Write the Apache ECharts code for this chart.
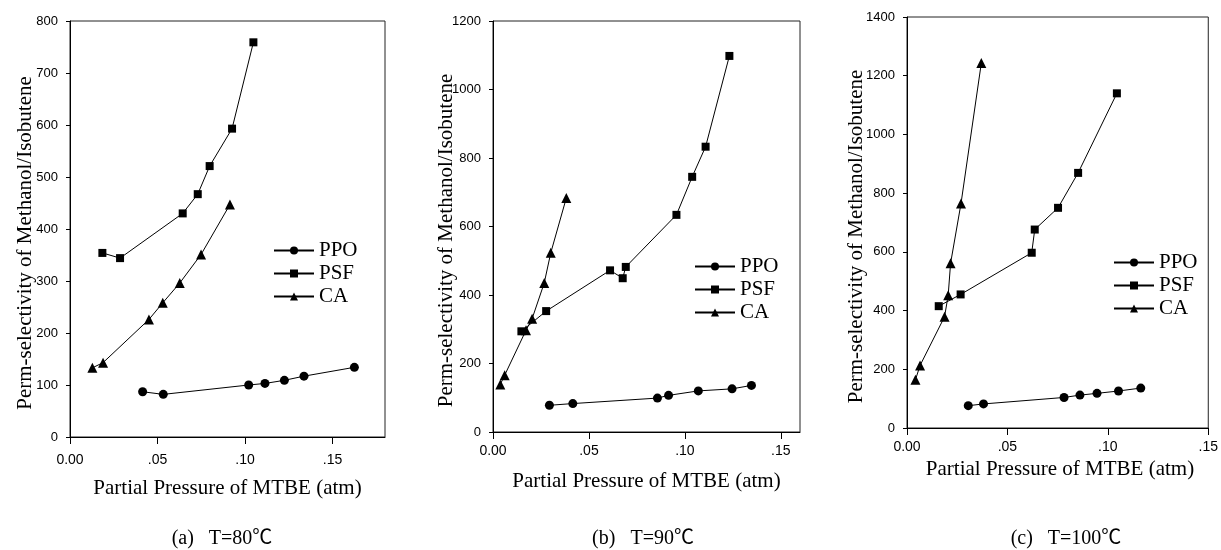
<!DOCTYPE html>
<html>
<head>
  <meta charset="utf-8">
  <title>Perm-selectivity of Methanol/Isobutene</title>
  <script src="https://cdn.jsdelivr.net/npm/echarts@6.0.0/dist/echarts.min.js"></script>
  <style>
    html, body { margin: 0; padding: 0; background: #fff; }
    #dom { width: 1221px; height: 550px; }
  </style>
</head>
<body>
<div id="dom"></div>
<script>
  // [partial pressure of MTBE (atm), perm-selectivity]
  const ppo80 = [[0.0415, 87], [0.0533, 82], [0.1021, 100], [0.1114, 103], [0.1225, 109], [0.1337, 117], [0.1625, 134]]
  const psf80 = [[0.0185, 354], [0.0286, 344], [0.0644, 430], [0.0730, 467], [0.0798, 521], [0.0926, 593], [0.1048, 759]]
  const ca80 = [[0.0128, 133], [0.0189, 143], [0.0451, 226], [0.0530, 258], [0.0627, 296], [0.0749, 351], [0.0914, 447]]

  const ppo90 = [[0.0294, 78], [0.0416, 83], [0.0857, 99], [0.0915, 107], [0.1070, 120], [0.1246, 126], [0.1347, 136]]
  const psf90 = [[0.0148, 294], [0.0277, 353], [0.0610, 472], [0.0676, 449], [0.0692, 482], [0.0956, 634], [0.1038, 745], [0.1108, 833], [0.1232, 1098]]
  const ca90 = [[0.0038, 139], [0.0061, 166], [0.0172, 297], [0.0204, 331], [0.0267, 435], [0.0301, 523], [0.0382, 683]]

  const ppo100 = [[0.0305, 76], [0.0381, 82], [0.0782, 104], [0.0861, 112], [0.0946, 118], [0.1053, 126], [0.1164, 136]]
  const psf100 = [[0.0158, 415], [0.0267, 455], [0.0621, 597], [0.0636, 676], [0.0752, 750], [0.0852, 869], [0.1045, 1140]]
  const ca100 = [[0.0042, 164], [0.0065, 213], [0.0187, 379], [0.0205, 452], [0.0217, 561], [0.0269, 765], [0.0370, 1243]]

  const xTicks = [0, 0.05, 0.10, 0.15]
  const membranes = ['PPO', 'PSF', 'CA']
  const captions = ['(a)   T=80℃', '(b)   T=90℃', '(c)   T=100℃']
  const xTitle = 'Partial Pressure of MTBE (atm)'
  const yTitle = 'Perm-selectivity of Methanol/Isobutene'

  const serif = "'Liberation Serif', 'Noto Sans CJK SC', serif"
  const sans = "'Liberation Sans', Arial, sans-serif"

  // one entry per panel: plot box, axis ranges and text placement
  const panels = [
    { left: 70, top: 21, width: 315, height: 416, xMax: 0.18, yMax: 800, yStep: 100, xLabelMargin: 16,
      data: [ppo80, psf80, ca80], legend: [268, 235], xTitleY: 488, yTitleX: 25, captionX: 222 },
    { left: 493, top: 21, width: 307, height: 411, xMax: 0.16, yMax: 1200, yStep: 200, xLabelMargin: 12,
      data: [ppo90, psf90, ca90], legend: [689, 251], xTitleY: 481, yTitleX: 446, captionX: 643 },
    { left: 907, top: 17, width: 306, height: 411, xMax: 0.15, yMax: 1400, yStep: 200, xLabelMargin: 12,
      data: [ppo100, psf100, ca100], legend: [1108, 247], xTitleY: 469, yTitleX: 856, captionX: 1066 }
  ]

  const symbols = { PPO: ['circle', 9], PSF: ['rect', 8], CA: ['triangle', 10] }

  function xLabel (v) {
    return v === 0 ? '0.00' : v.toFixed(2).replace(/^0/, '')
  }

  const grid = []
  const xAxis = []
  const yAxis = []
  const legend = []
  const series = []
  const graphic = []

  panels.forEach((p, i) => {
    grid.push({
      left: p.left,
      top: p.top,
      width: p.width,
      height: p.height,
      show: true,
      borderColor: '#222',
      borderWidth: 1
    })
    xAxis.push({
      type: 'value',
      gridIndex: i,
      min: 0,
      max: p.xMax,
      interval: 0.05,
      splitLine: { show: false },
      axisLine: { lineStyle: { color: '#000', width: 1 } },
      axisTick: { inside: false, length: 7, lineStyle: { color: '#000' }, customValues: xTicks },
      axisLabel: {
        customValues: xTicks,
        margin: p.xLabelMargin,
        color: '#000',
        fontFamily: sans,
        fontSize: 14,
        formatter: xLabel
      }
    })
    yAxis.push({
      type: 'value',
      gridIndex: i,
      min: 0,
      max: p.yMax,
      interval: p.yStep,
      splitLine: { show: false },
      axisLine: { show: true, lineStyle: { color: '#000', width: 1 } },
      axisTick: { show: true, inside: false, length: 4, lineStyle: { color: '#000' } },
      axisLabel: { margin: 12, color: '#000', fontFamily: sans, fontSize: 13, formatter: v => String(v) }
    })
    legend.push({
      orient: 'vertical',
      left: p.legend[0],
      top: p.legend[1],
      data: membranes,
      itemWidth: 40,
      itemHeight: 10,
      itemGap: 2,
      selectedMode: false,
      textStyle: { color: '#000', fontFamily: serif, fontSize: 21, lineHeight: 21 }
    })
    membranes.forEach((name, k) => {
      series.push({
        name: name,
        type: 'line',
        xAxisIndex: i,
        yAxisIndex: i,
        data: p.data[k],
        symbol: symbols[name][0],
        symbolSize: symbols[name][1],
        showAllSymbol: true,
        lineStyle: { color: '#000', width: 1 },
        itemStyle: { color: '#000' },
        emphasis: { disabled: true },
        animation: false
      })
    })
    graphic.push({
      type: 'text',
      x: p.yTitleX,
      y: p.top + p.height / 2 + 14,
      rotation: Math.PI / 2,
      style: { text: yTitle, fill: '#000', fontFamily: serif, fontSize: 21, align: 'center', verticalAlign: 'middle' }
    })
    graphic.push({
      type: 'text',
      x: p.left + p.width / 2,
      y: p.xTitleY,
      style: { text: xTitle, fill: '#000', fontFamily: serif, fontSize: 21, align: 'center', verticalAlign: 'middle' }
    })
    graphic.push({
      type: 'text',
      x: p.captionX,
      y: 539,
      style: { text: captions[i], fill: '#000', fontFamily: serif, fontSize: 20, align: 'center', verticalAlign: 'middle' }
    })
  })

  const chart = echarts.init(document.getElementById('dom'))
  chart.setOption({
    animation: false,
    backgroundColor: '#fff',
    grid: grid,
    xAxis: xAxis,
    yAxis: yAxis,
    legend: legend,
    series: series,
    graphic: graphic
  })
  window.addEventListener('resize', () => chart.resize())
</script>
</body>
</html>
